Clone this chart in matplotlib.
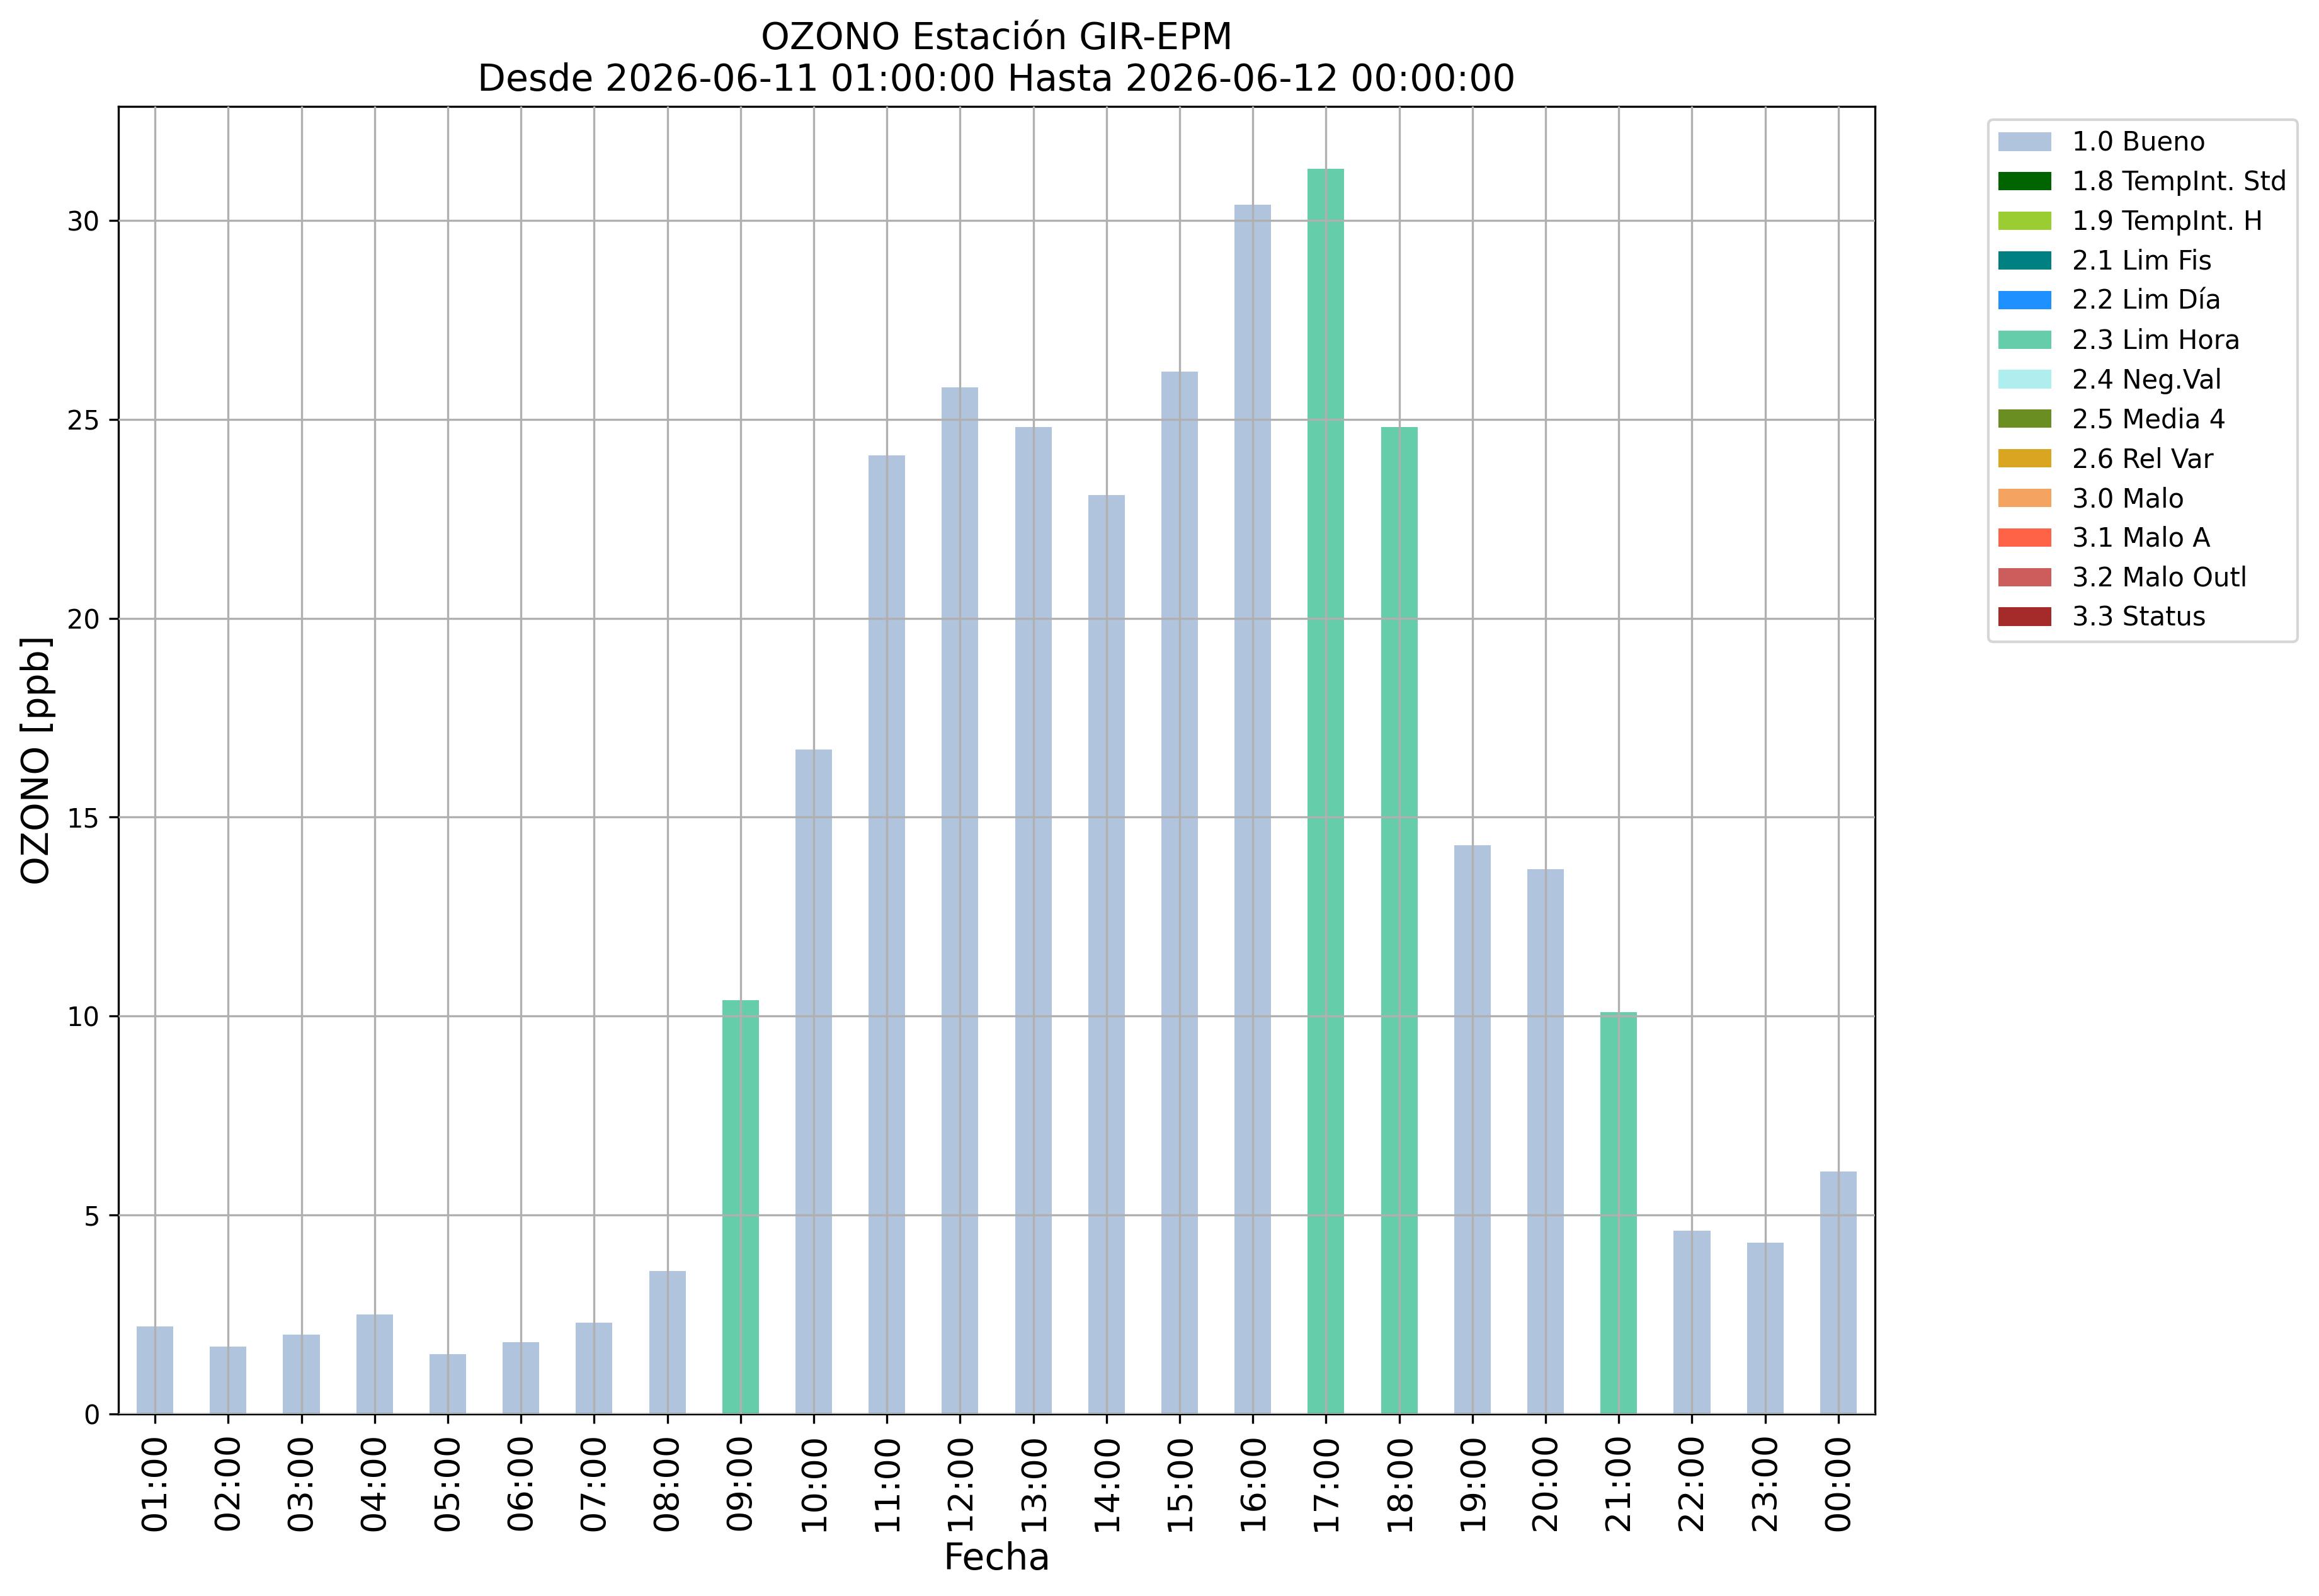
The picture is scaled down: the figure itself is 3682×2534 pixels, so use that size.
#!/usr/bin/env python3
#
# ozono_gir_epm.py
#
# Barras horarias de OZONO coloreadas por bandera de calidad
#
import numpy as np
import matplotlib
matplotlib.use('Agg')
import matplotlib.pyplot as plt

horas = ['01:00', '02:00', '03:00', '04:00', '05:00', '06:00', '07:00', '08:00',
         '09:00', '10:00', '11:00', '12:00', '13:00', '14:00', '15:00', '16:00',
         '17:00', '18:00', '19:00', '20:00', '21:00', '22:00', '23:00', '00:00']

ozono = [2.2, 1.7, 2.0, 2.5, 1.5, 1.8, 2.3, 3.6,
         10.4, 16.7, 24.1, 25.8, 24.8, 23.1, 26.2, 30.4,
         31.3, 24.8, 14.3, 13.7, 10.1, 4.6, 4.3, 6.1]

banderas = [1.0, 1.0, 1.0, 1.0, 1.0, 1.0, 1.0, 1.0,
            2.3, 1.0, 1.0, 1.0, 1.0, 1.0, 1.0, 1.0,
            2.3, 2.3, 1.0, 1.0, 2.3, 1.0, 1.0, 1.0]

codigos = [1.0, 1.8, 1.9, 2.1, 2.2, 2.3, 2.4, 2.5, 2.6, 3.0, 3.1, 3.2, 3.3]
nombres = ['1.0 Bueno', '1.8 TempInt. Std', '1.9 TempInt. H', '2.1 Lim Fis',
           '2.2 Lim Día', '2.3 Lim Hora', '2.4 Neg.Val', '2.5 Media 4',
           '2.6 Rel Var', '3.0 Malo', '3.1 Malo A', '3.2 Malo Outl', '3.3 Status']
colores = ['lightsteelblue', 'darkgreen', 'yellowgreen', 'teal', 'dodgerblue',
           'mediumaquamarine', 'paleturquoise', 'olivedrab', 'goldenrod',
           'sandybrown', 'tomato', 'indianred', 'brown']

W, H, DPI = 3682, 2534, 300
fig = plt.figure(figsize=(W / DPI, H / DPI), dpi=DPI)
ax = fig.add_axes([188 / W, 1 - 2245 / H, (2977 - 188) / W, (2245 - 169) / H])

x = np.arange(len(horas))
val = np.array(ozono)
flg = np.array(banderas)
base = np.zeros(len(horas))
for cod, nom, col in zip(codigos, nombres, colores):
    alt = np.where(np.isclose(flg, cod), val, 0.0)
    ax.bar(x, alt, width=0.5, bottom=base, color=col, label=nom, linewidth=0)
    base = base + alt

ax.set_xlim(-0.5, len(horas) - 0.5)
ax.set_ylim(0, val.max() * 1.05)
ax.set_xticks(x)
ax.set_xticklabels(horas, rotation=90, fontsize=13)
ax.tick_params(axis='y', labelsize=10)
ax.set_axisbelow(False)
ax.grid(True, color='#b0b0b0', linewidth=0.8)

ax.set_title('OZONO Estación GIR-EPM\nDesde 2026-06-11 01:00:00 Hasta 2026-06-12 00:00:00',
             fontsize=14)
ax.set_xlabel('Fecha', fontsize=14)
ax.set_ylabel('OZONO [ppb]', fontsize=14)

ax.legend(bbox_to_anchor=(1.057, 1), loc=2, fontsize=10)

fig.savefig('out.png', dpi=DPI)
